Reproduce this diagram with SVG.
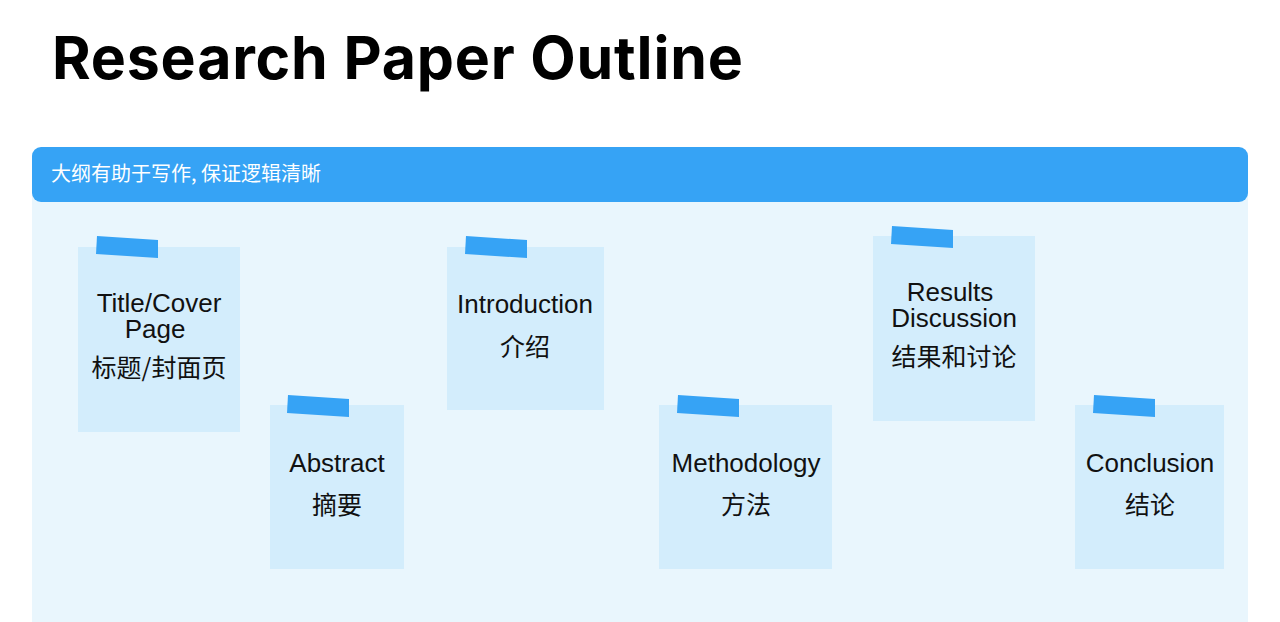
<svg xmlns="http://www.w3.org/2000/svg" width="1280" height="622" viewBox="0 0 1280 622">
<style>
.note{fill:#d3edfc}
.tape{fill:#36a3f5}
.en{font-family:"Liberation Sans",Arial,sans-serif;font-size:26px;fill:#111;text-anchor:middle}
.zh{font-family:"Noto Sans CJK SC",sans-serif;font-size:25px;fill:#111;text-anchor:middle}
</style>
<defs>
<path id="tape" d="M1,0 L62,4 L62,22 L0,18 Z"/>
</defs>
<rect width="1280" height="622" fill="#fff"/>
<text x="52" y="79" font-family="Inter,'Liberation Sans',sans-serif" font-weight="700" font-size="59" letter-spacing="0.8" fill="#000">Research Paper Outline</text>
<rect x="32" y="190" width="1216" height="432" fill="#e9f6fd"/>
<rect x="32" y="147" width="1216" height="55" rx="9" fill="#36a3f5"/>
<text x="51" y="181" font-family="'Noto Sans CJK SC',sans-serif" font-size="20" fill="#fff">大纲有助于写作, 保证逻辑清晰</text>
<g id="n1"><rect class="note" x="78" y="247" width="162" height="185"/><use href="#tape" class="tape" x="96" y="236"/>
<text class="en" x="159" y="312">Title/Cover</text><text class="en" x="155" y="338">Page</text><text class="zh" x="159" y="377">标题/封面页</text></g>
<g id="n2"><rect class="note" x="270" y="405" width="134" height="164"/><use href="#tape" class="tape" x="287" y="395"/>
<text class="en" x="337" y="472">Abstract</text><text class="zh" x="337" y="514">摘要</text></g>
<g id="n3"><rect class="note" x="447" y="247" width="157" height="163"/><use href="#tape" class="tape" x="465" y="236"/>
<text class="en" x="525" y="313">Introduction</text><text class="zh" x="525" y="356">介绍</text></g>
<g id="n4"><rect class="note" x="659" y="405" width="173" height="164"/><use href="#tape" class="tape" x="677" y="395"/>
<text class="en" x="746" y="472">Methodology</text><text class="zh" x="746" y="514">方法</text></g>
<g id="n5"><rect class="note" x="873" y="236" width="162" height="185"/><use href="#tape" class="tape" x="891" y="226"/>
<text class="en" x="950" y="301">Results</text><text class="en" x="954" y="327">Discussion</text><text class="zh" x="954" y="366">结果和讨论</text></g>
<g id="n6"><rect class="note" x="1075" y="405" width="149" height="164"/><use href="#tape" class="tape" x="1093" y="395"/>
<text class="en" x="1150" y="472">Conclusion</text><text class="zh" x="1150" y="514">结论</text></g>
<g id="connectors"/>
</svg>
